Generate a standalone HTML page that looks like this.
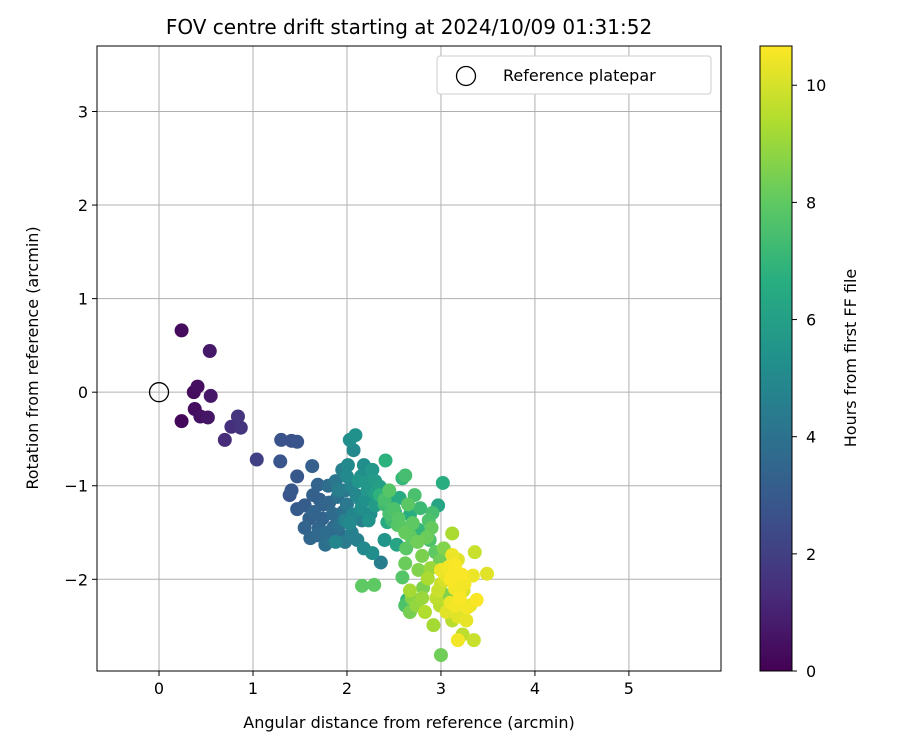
<!DOCTYPE html>
<html><head><meta charset="utf-8"><style>
body{margin:0;background:#fff;font-family:"Liberation Sans","DejaVu Sans",sans-serif}
svg text{font-family:"DejaVu Sans","Liberation Sans",sans-serif;fill:#000}
</style></head><body>
<svg id="chart" width="900" height="750" xmlns="http://www.w3.org/2000/svg">
<defs><linearGradient id="vir" x1="0" y1="1" x2="0" y2="0">
<stop offset="0" stop-color="#440154"/><stop offset="0.125" stop-color="#472d7b"/><stop offset="0.25" stop-color="#3b528b"/><stop offset="0.375" stop-color="#2c728e"/><stop offset="0.5" stop-color="#21918c"/><stop offset="0.625" stop-color="#28ae80"/><stop offset="0.75" stop-color="#5ec962"/><stop offset="0.875" stop-color="#addc30"/><stop offset="1" stop-color="#fde725"/></linearGradient></defs>
<g id="grid"></g>
<g id="pts"></g>
<rect x="97" y="46" width="624" height="625" fill="none" stroke="#000" stroke-width="1"/>
<g id="ticks"></g>
<text x="409" y="34" font-size="20" text-anchor="middle">FOV centre drift starting at 2024/10/09 01:31:52</text>
<text x="409" y="728" font-size="16" text-anchor="middle">Angular distance from reference (arcmin)</text>
<text x="38" y="358" font-size="16" text-anchor="middle" transform="rotate(-90 38 358)">Rotation from reference (arcmin)</text>
<g>
<rect x="437" y="56" width="274" height="38" rx="3" fill="#fff" stroke="#ccc"/>
<circle cx="466" cy="76" r="9.5" fill="none" stroke="#000" stroke-width="1.3"/>
<text x="503" y="81" font-size="16">Reference platepar</text>
</g>
<rect x="760" y="46" width="32" height="625" fill="url(#vir)" stroke="#000" stroke-width="1"/>
<g id="cbticks"></g>
<text x="856" y="358" font-size="16" text-anchor="middle" transform="rotate(-90 856 358)">Hours from first FF file</text>
</svg>
<script>
const xTicks=[0,1,2,3,4,5];
const yTicks=[-2,-1,0,1,2,3];
const cbTicks=[0,2,4,6,8,10];
const xs=[0.24,0.54,0.37,0.41,0.24,0.38,0.44,0.52,0.55,0.70,0.77,0.84,0.87,1.04,1.30,1.29,1.41,1.47,1.39,1.41,1.47,1.47,1.63,1.55,1.61,1.68,1.64,1.69,1.74,1.81,1.82,1.86,1.93,1.96,1.90,1.98,1.95,2.03,2.09,2.07,2.01,2.15,2.14,2.06,2.16,2.11,2.18,2.27,2.36,2.40,2.22,2.27,2.41,2.35,2.48,2.51,2.56,2.59,2.62,2.67,2.76,2.78,2.72,2.87,2.97,3.02,2.91,2.88,2.94,2.99,3.03,3.12,3.04,3.06,2.99,2.92,3.00,3.12,3.20,3.23,3.31,3.34,3.38,3.36,3.49,3.18,3.35,3.27,3.23,2.62,2.67,2.69,2.74,2.80,2.83,2.86,2.89,2.59,2.62,2.63,2.67,2.76,2.29,2.16,2.81,2.67,2.64,3.12,3.15,3.18,3.08,3.24,3.06,3.15,2.97,1.88,1.98,2.23,2.30,2.40,2.45,2.54,2.62,2.15,2.03,1.77,1.71,2.20,2.30,1.91,2.43,2.53,2.48,
1.75,1.85,1.70,1.78,1.92,2.00,2.05,2.10,2.12,2.20,2.25,2.30,2.18,2.00,1.88,1.60,1.55,1.65,1.80,2.05,1.98,
2.40,2.45,2.55,2.60,2.70,2.75,2.80,2.85,2.90,2.50,2.35,2.65,
3.10,3.15,3.20,3.10,3.25,3.05,3.22,3.00,3.15,3.28,3.18,3.00,2.95];
const ys=[0.66,0.44,0,0.06,-0.31,-0.18,-0.26,-0.27,-0.04,-0.51,-0.37,-0.26,-0.38,-0.72,-0.51,-0.74,-0.52,-0.53,-1.10,-1.05,-0.90,-1.25,-0.79,-1.21,-1.56,-1.53,-1.10,-0.99,-1.35,-1.18,-1.56,-1.44,-1.53,-1.28,-1.12,-1.05,-0.83,-0.51,-0.46,-0.62,-0.78,-0.90,-1.15,-1.31,-1.37,-1.58,-1.67,-1.72,-1.82,-1.58,-1.05,-0.83,-0.73,-1.01,-1.13,-1.28,-1.13,-0.92,-0.89,-1.31,-1.47,-1.24,-1.10,-1.37,-1.21,-0.97,-1.29,-1.58,-1.71,-1.80,-1.67,-1.51,-2.01,-2.17,-2.28,-2.49,-2.81,-2.44,-2.12,-2.01,-2.28,-1.96,-2.22,-1.71,-1.94,-2.65,-2.65,-2.44,-2.59,-2.28,-2.35,-2.20,-2.28,-2.20,-2.35,-1.99,-1.88,-1.98,-1.83,-1.67,-1.53,-1.90,-2.06,-2.07,-2.09,-2.12,-2.22,-1.74,-1.90,-1.79,-1.87,-2.12,-2.35,-2.28,-2.12,-1.60,-1.37,-1.37,-1.21,-1.15,-1.05,-1.42,-1.50,-1.25,-1.40,-1.63,-1.15,-0.96,-1.08,-1.05,-1.39,-1.63,-1.37,
-1.20,-1.30,-1.45,-1.50,-1.42,-1.20,-1.00,-1.10,-0.95,-1.15,-1.30,-0.95,-0.78,-0.90,-0.95,-1.35,-1.45,-1.28,-1.00,-1.50,-1.60,
-1.20,-1.30,-1.35,-1.45,-1.40,-1.60,-1.75,-1.55,-1.45,-1.25,-1.10,-1.20,
-2.00,-2.10,-2.20,-2.25,-2.05,-1.95,-1.95,-1.90,-1.85,-2.30,-2.40,-2.05,-2.20];
const hours=[0.3,0.7,0.3,0.4,0.2,0.4,0.5,0.6,0.7,1.3,1.4,1.6,1.6,2.0,2.7,2.8,2.7,2.8,2.8,2.9,2.9,3.0,3.2,3.1,3.5,3.6,3.3,3.4,3.4,3.5,3.6,3.7,3.8,3.9,3.9,4.2,4.6,5.2,5.4,5.0,5.0,5.3,5.0,4.8,4.5,4.6,5.0,5.2,4.5,5.5,5.6,5.6,6.8,6.0,6.4,5.8,6.5,7.0,7.4,6.6,7.0,7.2,7.5,7.6,6.2,6.6,7.4,7.6,8.0,8.3,8.6,9.3,10.0,8.6,9.5,9.2,8.3,9.5,10.5,10.5,10.2,10.4,10.6,9.8,10.2,10.5,9.8,10.3,9.6,7.6,8.4,8.7,8.9,9.0,9.4,9.3,9.0,7.8,8.2,7.9,8.0,8.6,8.0,8.0,8.5,9.2,7.0,10.4,10.6,10.2,10.5,10.0,10.2,10.5,9.8,4.8,4.7,5.4,5.8,7.5,7.8,7.8,8.1,5.2,5.0,3.9,3.2,5.6,6.0,4.5,6.5,6.2,7.2,
3.4,3.7,3.5,3.8,4.0,4.3,4.8,4.9,5.5,5.4,5.1,5.8,5.2,5.0,4.2,3.3,3.4,3.4,3.8,4.6,4.4,
7.2,7.5,7.8,7.9,8.0,8.3,8.5,8.2,8.1,7.6,6.8,7.9,
10.6,10.5,10.6,10.4,10.5,10.3,10.6,10.4,10.6,10.5,10.2,9.8,9.6];
const NS="http://www.w3.org/2000/svg";
const X0=97,X1=721,Y0=46,Y1=671,xmin=-0.66,xmax=5.98,ymin=-2.98,ymax=3.7,hmax=10.67;
const sx=v=>X0+(v-xmin)/(xmax-xmin)*(X1-X0);
const sy=v=>Y1-(v-ymin)/(ymax-ymin)*(Y1-Y0);
const sc=v=>671-v/hmax*625;
const vir=[[68,1,84],[71,45,123],[59,82,139],[44,114,142],[33,145,140],[40,174,128],[94,201,98],[173,220,48],[253,231,37]];
function col(h){let t=Math.max(0,Math.min(1,h/hmax))*8,i=Math.min(7,Math.floor(t)),f=t-i;const a=vir[i],b=vir[i+1];return `rgb(${a.map((c,k)=>Math.round(c+(b[k]-c)*f)).join(',')})`;}
function mk(tag,at,parent){const e=document.createElementNS(NS,tag);for(const k in at)e.setAttribute(k,at[k]);parent.appendChild(e);return e;}
const grid=document.getElementById('grid'),ticks=document.getElementById('ticks'),pts=document.getElementById('pts'),cbt=document.getElementById('cbticks');
xTicks.forEach(v=>{const x=sx(v);
 let l=mk('line',{x1:x,x2:x,y1:Y0,y2:Y1,stroke:'#b0b0b0','stroke-width':1},grid);
 
 
 let t=mk('line',{x1:x,x2:x,y1:Y1,y2:Y1+5,stroke:'#000'},ticks);
 
 
 let s=mk('text',{x:x,y:Y1+23,'font-size':16,'text-anchor':'middle'},ticks);s.textContent=v;
 
 });
yTicks.forEach(v=>{const y=sy(v);
 let l=mk('line',{x1:X0,x2:X1,y1:y,y2:y,stroke:'#b0b0b0','stroke-width':1},grid);
 
 
 let t=mk('line',{x1:X0-5,x2:X0,y1:y,y2:y,stroke:'#000'},ticks);
 
 
 let s=mk('text',{x:X0-9,y:y+6,'font-size':16,'text-anchor':'end'},ticks);s.textContent=(v<0?'\u2212'+(-v):v);
 
 });
const order=hours.map((h,i)=>i).sort((a,b)=>hours[a]-hours[b]);
order.forEach(i=>{let c=mk('circle',{cx:sx(xs[i]),cy:sy(ys[i]),r:7,fill:col(hours[i])},pts);
 
 });
let ref=mk('circle',{cx:sx(0),cy:sy(0),r:9.5,fill:'none',stroke:'#000','stroke-width':1.3},pts);


cbTicks.forEach(v=>{const y=sc(v);
 let t=mk('line',{x1:792,x2:797,y1:y,y2:y,stroke:'#000'},cbt);
 
 
 let s=mk('text',{x:806,y:y+6,'font-size':16},cbt);s.textContent=v;
 
 });
</script>
</body></html>
